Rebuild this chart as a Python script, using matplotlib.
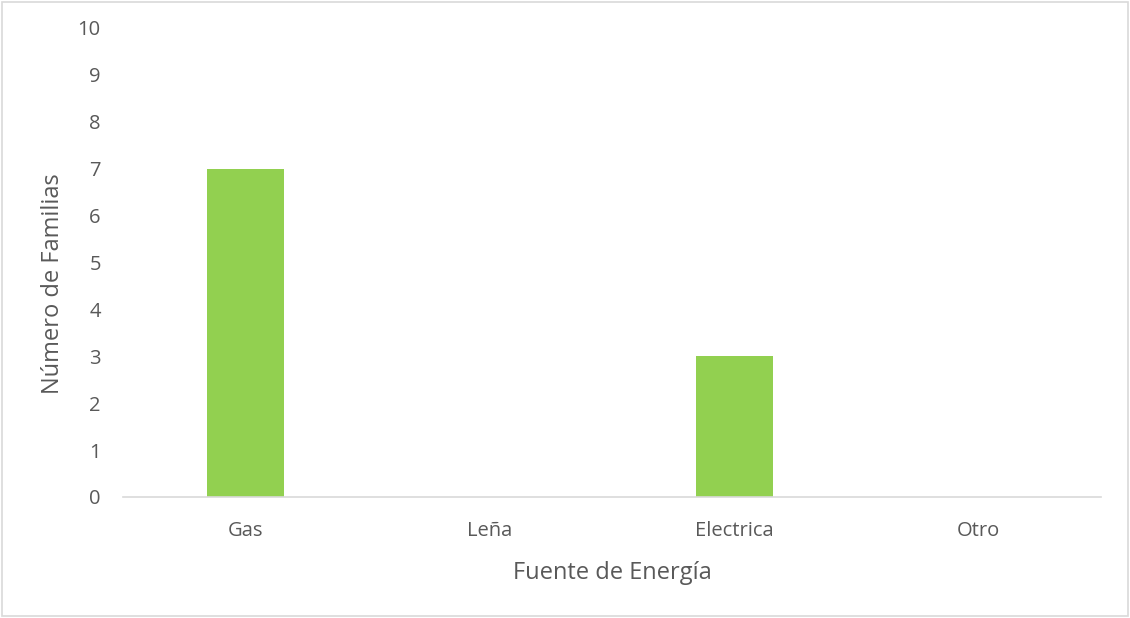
import matplotlib
matplotlib.use("Agg")
import matplotlib.pyplot as plt
from matplotlib.patches import Rectangle

categories = ["Gas", "Leña", "Electrica", "Otro"]
values = [7, 0, 3, 0]
yticks = list(range(0, 11))

plt.rcParams['font.family'] = ['Open Sans', 'DejaVu Sans']
text_color = "#595959"

fig = plt.figure(figsize=(11.3, 6.18), dpi=100)
fig.patches.append(Rectangle((0.002, 0.003), 0.996, 0.994, transform=fig.transFigure,
                             fill=False, edgecolor="#D9D9D9", linewidth=1.2))
ax = fig.add_axes([123/1130, 121/618, 978/1130, 469/618])

x = range(len(categories))
ax.bar(x, values, width=0.315, color="#92D050")
ax.set_xlim(-0.5, len(categories) - 0.5)
ax.set_ylim(0, 10)
ax.set_yticks(yticks)
ax.set_xticks(list(x))
ax.set_xticklabels(categories)

for s in ["top", "right", "left"]:
    ax.spines[s].set_visible(False)
ax.spines["bottom"].set_color("#D9D9D9")
ax.spines["bottom"].set_linewidth(1.2)

ax.tick_params(axis="y", length=0, pad=16, labelsize=14.5, labelcolor=text_color)
ax.tick_params(axis="x", length=0, pad=17, labelsize=14.5, labelcolor=text_color)

ax.set_xlabel("Fuente de Energía", fontsize=17, color=text_color, labelpad=15)
ax.set_ylabel("Número de Familias", fontsize=17, color=text_color, labelpad=9)
ax.yaxis.label.set_y(0.456)

fig.savefig("out.png", dpi=100)
